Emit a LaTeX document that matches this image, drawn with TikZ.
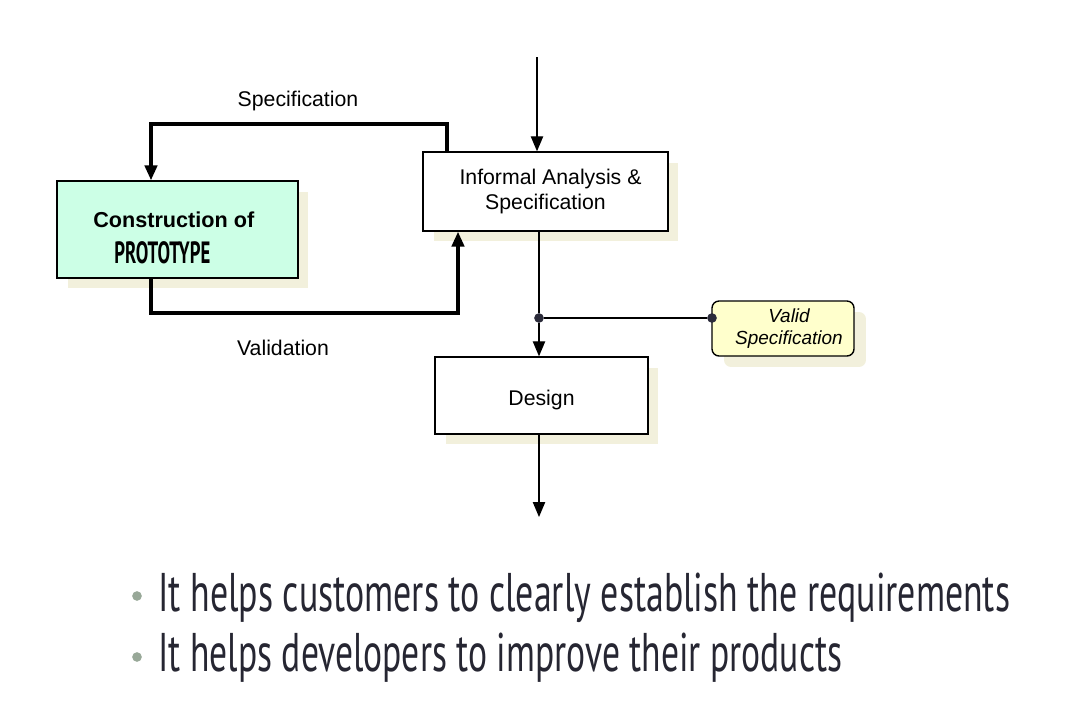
\documentclass[tikz,border=0pt]{standalone}
\usepackage{fontspec}
\setmainfont{Liberation Sans}
\newfontfamily\bulletfont{PT Sans}
\usepackage{graphicx}
\usetikzlibrary{arrows.meta,positioning,calc,shadows}

\definecolor{mintfill}{HTML}{CCFFE6}
\definecolor{notefill}{HTML}{FFFFCC}
\definecolor{shadowcol}{HTML}{F2F0DC}
\definecolor{dotcol}{HTML}{2B2B3A}
\definecolor{bulletcol}{HTML}{98A898}
\definecolor{bullettext}{HTML}{262632}

\begin{document}
\begin{tikzpicture}[
            x=0.02cm, y=-0.02cm,
            >={Triangle[width=7pt,length=8.5pt]},
            procbox/.style={draw, line width=0.8pt, fill=white, inner sep=0pt,
                drop shadow={shadow xshift=0.21cm, shadow yshift=-0.21cm, fill=shadowcol, opacity=1}},
            notebox/.style={draw, line width=0.8pt, fill=notefill, rounded corners=4pt, inner sep=0pt,
                drop shadow={shadow xshift=0.24cm, shadow yshift=-0.22cm, fill=shadowcol, opacity=1}},
            flowlbl/.style={font=\fontsize{12.1}{14.2}\selectfont},
            thinline/.style={line width=0.7pt},
            thickline/.style={line width=2pt},
            jdot/.style={circle, fill=dotcol, inner sep=0pt, minimum size=5.5pt},
            bulletline/.style={anchor=base west, inner sep=0pt, text=bullettext,
                font=\bulletfont\fontsize{31}{36}\selectfont},
            bulletdot/.style={circle, fill=bulletcol, inner sep=0pt, minimum size=5.5pt}
        ]
            \useasboundingbox (0,0) rectangle (1072,714);

            % boxes
            \node[procbox, fill=mintfill, minimum width=4.82cm, minimum height=1.94cm] (proto) at (177.5,229.5) {};
            \node[anchor=north west, inner sep=0pt, align=left] (protolbl) at (93,211)
                {\fontsize{12.3}{14}\selectfont\bfseries Construction of\\[7pt]
                \hspace*{0.42cm}\resizebox{1.92cm}{\height}{\bulletfont\bfseries\fontsize{17.5}{18}\selectfont PROTOTYPE}};
            \node[procbox, minimum width=4.9cm, minimum height=1.58cm, align=center, flowlbl] (ias) at (545.5,191.5)
                {\hspace*{0.2cm}Informal Analysis \&\\Specification};
            \node[procbox, minimum width=4.26cm, minimum height=1.54cm, flowlbl, text depth=0pt] (design) at (541.5,395.5)
                {\raisebox{-0.08cm}{Design}};
            \node[notebox, minimum width=2.84cm, minimum height=1.1cm, align=center, font=\itshape\fontsize{10.8}{12.6}\selectfont] (valid) at (783,328.5)
                {\hspace*{0.24cm}Valid\\\hspace*{0.24cm}Specification};

            % free ends and bends
            \coordinate (topin) at (537,57);
            \coordinate (botout) at (539,517);
            \coordinate (specup) at (447,124);
            \coordinate (specdn) at (151,124);
            \coordinate (valdn) at (151,313);
            \coordinate (valup) at (458,313);
            \node[jdot] (jA) at (539,318) {};
            \node[jdot] (jB) at (712,318) {};

            % labels
            \node[flowlbl] (speclbl) at (298,101) {Specification};
            \node[flowlbl] (vallbl) at (283,348) {Validation};

            % connectors
            \draw[thinline, ->] (topin) -- (topin |- ias.north);
            \draw[thickline, ->] (specup |- ias.north) -- (specup) -- (specdn) -- (specdn |- proto.north);
            \draw[thickline, ->] (valdn |- proto.south) -- (valdn) -- (valup) -- (valup |- ias.south);
            \draw[thinline] (jA |- ias.south) -- (jA);
            \draw[thinline, ->] (jA) -- (jA |- design.north);
            \draw[thinline] (jA) -- (jB);
            \draw[thinline, ->] (botout |- design.south) -- (botout);

            % bullets
            \node[bulletdot] (b1) at (137,596) {};
            \node[bulletdot] (b2) at (137,657) {};
            \node[bulletline] (t1) at (158,611)
                {\resizebox{17.04cm}{\height}{It helps customers to clearly establish the requirements}};
            \node[bulletline] (t2) at (158,671)
                {\resizebox{13.68cm}{\height}{It helps developers to improve their products}};
        \end{tikzpicture}
\end{document}
